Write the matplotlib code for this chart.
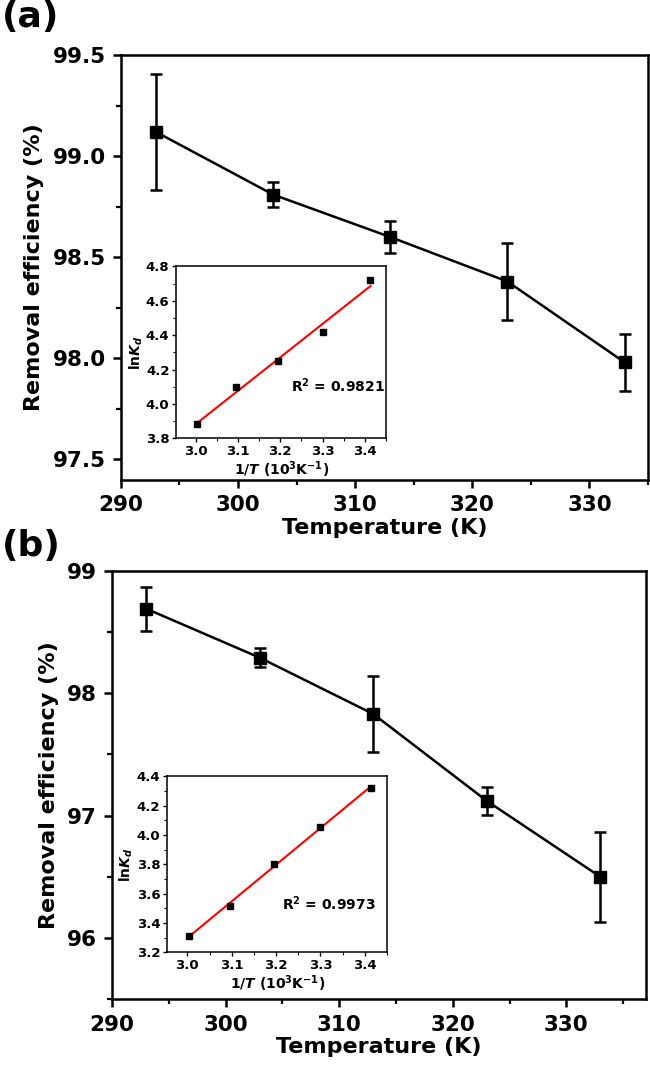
import numpy as np
import matplotlib
matplotlib.use('Agg')
import matplotlib.pyplot as plt
from matplotlib.ticker import MultipleLocator, FormatStrFormatter

plt.rcParams['font.family'] = ['DejaVu Sans']
plt.rcParams['font.weight'] = 'bold'
plt.rcParams['mathtext.fontset'] = 'custom'
plt.rcParams['mathtext.rm'] = 'DejaVu Sans:bold'
plt.rcParams['mathtext.it'] = 'DejaVu Sans:italic:bold'
plt.rcParams['mathtext.bf'] = 'DejaVu Sans:bold'
plt.rcParams['mathtext.default'] = 'rm'

# 温度与去除效率
temp = [293, 303, 313, 323, 333]
eff_a = [99.12, 98.81, 98.60, 98.38, 97.98]
err_a = [0.285, 0.06, 0.08, 0.19, 0.14]
eff_b = [98.69, 98.29, 97.83, 97.12, 96.50]
err_b = [0.18, 0.08, 0.31, 0.115, 0.37]

# 插图 lnKd - 1/T
inv_t = [3.003, 3.096, 3.195, 3.300, 3.413]
lnkd_a = [3.884, 4.10, 4.247, 4.416, 4.722]
lnkd_b = [3.311, 3.515, 3.805, 4.052, 4.320]
r2_a = '0.9821'
r2_b = '0.9973'

fig = plt.figure(figsize=(6.5, 10.71), dpi=100)


def main_panel(rect, y, e, ylim, xlim, ymaj, ymin, fmt):
    ax = fig.add_axes(rect)
    ax.errorbar(temp, y, yerr=e, color='black', marker='s', markersize=9,
                lw=1.8, elinewidth=1.8, capsize=4, capthick=1.8)
    ax.set_xlim(xlim)
    ax.set_ylim(ylim)
    ax.xaxis.set_major_locator(MultipleLocator(10))
    ax.xaxis.set_minor_locator(MultipleLocator(5))
    ax.yaxis.set_major_locator(MultipleLocator(ymaj))
    ax.yaxis.set_minor_locator(MultipleLocator(ymin))
    ax.yaxis.set_major_formatter(FormatStrFormatter(fmt))
    ax.tick_params(which='major', direction='out', length=6, width=1.8,
                   labelsize=15.5, pad=5)
    ax.tick_params(which='minor', direction='out', length=3.5, width=1.6)
    ax.tick_params(top=False, right=False)
    for s in ax.spines.values():
        s.set_linewidth(1.8)
    ax.set_xlabel('Temperature (K)', fontsize=16, fontweight='bold', labelpad=2)
    ax.set_ylabel('Removal efficiency (%)', fontsize=16, fontweight='bold', labelpad=6)
    return ax


def inset_panel(rect, y, ylim, r2, txt_pos):
    ax = fig.add_axes(rect)
    k, b = np.polyfit(inv_t, y, 1)
    xs = np.array([inv_t[0], inv_t[-1]])
    ax.plot(xs, k * xs + b, color='red', lw=1.5)
    ax.plot(inv_t, y, 's', color='black', markersize=4.5)
    ax.set_xlim(2.955, 3.45)
    ax.set_ylim(ylim)
    ax.xaxis.set_major_locator(MultipleLocator(0.1))
    ax.xaxis.set_minor_locator(MultipleLocator(0.05))
    ax.yaxis.set_major_locator(MultipleLocator(0.2))
    ax.yaxis.set_minor_locator(MultipleLocator(0.1))
    ax.xaxis.set_major_formatter(FormatStrFormatter('%.1f'))
    ax.yaxis.set_major_formatter(FormatStrFormatter('%.1f'))
    ax.tick_params(which='major', direction='out', length=3, width=1,
                   labelsize=9.5, pad=2)
    ax.tick_params(which='minor', direction='out', length=2, width=0.8)
    for s in ax.spines.values():
        s.set_linewidth(1.1)
    ax.set_xlabel(r'$1/\mathit{T}\ (10^3\mathrm{K}^{-1})$', fontsize=10, labelpad=1)
    ax.set_ylabel(r'$\mathrm{ln}\mathit{K}_\mathit{d}$', fontsize=10, labelpad=1)
    ax.text(txt_pos[0], txt_pos[1], r'$\mathrm{R}^2$ = ' + r2, transform=ax.transAxes,
            fontsize=10, fontweight='bold')
    return ax


main_panel([0.186, 0.5522, 0.811, 0.3963], eff_a, err_a, (97.4, 99.5), (290, 335),
           0.5, 0.25, '%.1f')
inset_panel([0.2715, 0.5908, 0.3226, 0.1604], lnkd_a, (3.8, 4.8), r2_a, (0.545, 0.27))

main_panel([0.1725, 0.0669, 0.8211, 0.4002], eff_b, err_b, (95.5, 99.0), (290, 337),
           1, 0.5, '%d')
inset_panel([0.2575, 0.1107, 0.3378, 0.1646], lnkd_b, (3.2, 4.4), r2_b, (0.52, 0.24))

fig.text(0.003, 1.0, '(a)', fontsize=26, fontweight='bold', va='top', ha='left')
fig.text(0.003, 0.506, '(b)', fontsize=26, fontweight='bold', va='top', ha='left')

fig.savefig('out.png', dpi=100)
